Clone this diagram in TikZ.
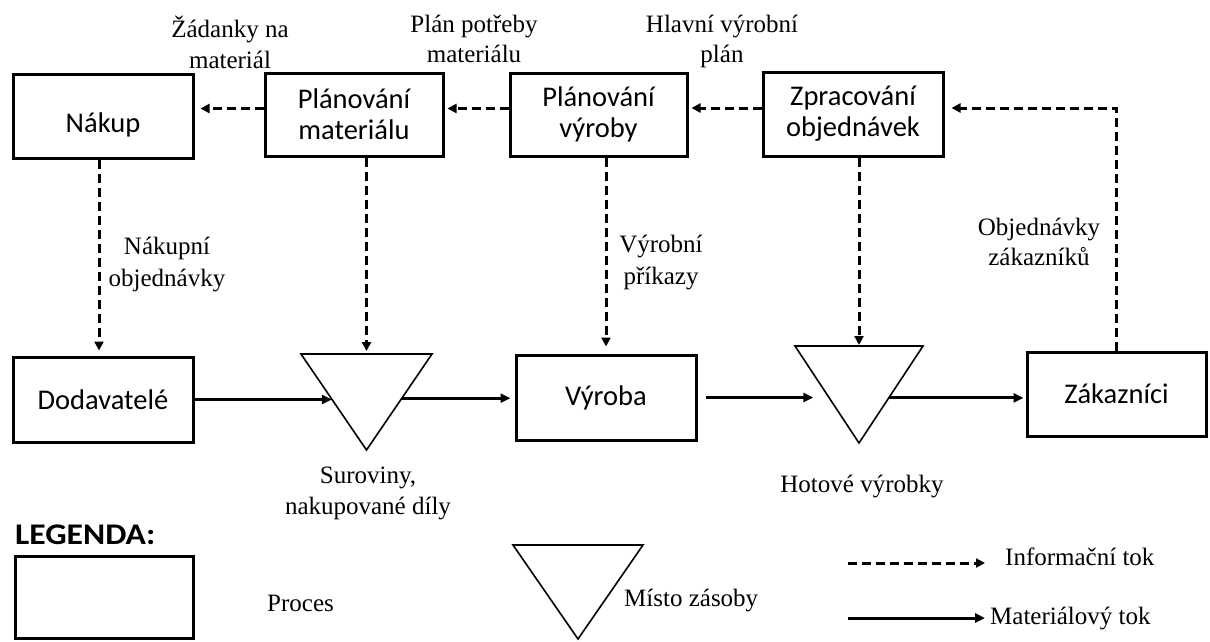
\documentclass[tikz,border=0pt]{standalone}
\usepackage{graphicx}
\usepackage{fontspec}
\setmainfont{Liberation Serif}
\newfontfamily\calibrilike{Carlito}
\usetikzlibrary{arrows.meta,calc}

\begin{document}
\begin{tikzpicture}[x=1pt,y=-1pt,
  proc/.style={draw, line width=3pt, inner sep=0pt,
    font=\calibrilike\fontsize{28.5}{31}\selectfont, align=center},
  proctext/.style={font=\calibrilike\fontsize{28.5}{31}\selectfont, inner sep=0pt},
  stockarea/.style={inner sep=0pt, outer sep=0pt},
  stocktri/.style={line width=1.6pt, line join=miter},
  note/.style={font=\fontsize{25}{31}\selectfont, inner sep=0pt, anchor=base},
  legendhead/.style={font=\calibrilike\bfseries\fontsize{30}{34}\selectfont, inner sep=0pt, anchor=base west},
  info/.style={line width=3pt, dash pattern=on 9pt off 5pt,
    -{Triangle[length=9pt,width=9pt]}},
  mat/.style={line width=3pt, -{Triangle[length=10pt,width=9pt]}},
]
\useasboundingbox (0,0) rectangle (1210,641);

% --- planning row ---
\node[proc, minimum width=180pt, minimum height=84pt,
      label={[proctext, yshift=-9pt]center:Nákup}] (nak) at (103,116) {};
\node[proc, minimum width=178pt, minimum height=83pt] (pm) at (354,114.5) {Plánování\\materiálu};
\node[proc, minimum width=177pt, minimum height=83pt] (pv) at (598.5,114.5) {Plánování\\výroby};
\node[proc, minimum width=180pt, minimum height=84pt] (zpr) at (853,114) {Zpracování\\objednávek};

% --- material row ---
\node[proc, minimum width=180pt, minimum height=85pt] (dod) at (103,399.5) {Dodavatelé};
\node[stockarea, minimum width=131pt, minimum height=96pt] (t1) at (366.5,402) {};
\draw[stocktri] (t1.north west) -- (t1.north east) -- (t1.south) -- cycle;
\node[proc, minimum width=180pt, minimum height=85pt] (vyr) at (606,397.5) {Výroba};
\node[stockarea, minimum width=128pt, minimum height=97pt] (t2) at (859,394.5) {};
\draw[stocktri] (t2.north west) -- (t2.north east) -- (t2.south) -- cycle;
\node[proc, minimum width=179pt, minimum height=84pt] (zak) at (1116.5,394) {Zákazníci};

% points where the material flow meets the stock triangles
\coordinate (t1in)  at ($(t1.north west)!0.47!(t1.south)$);
\coordinate (t1out) at ($(t1.north east)!0.46!(t1.south)$);
\coordinate (t2in)  at ($(t2.north west)!0.535!(t2.south)$);
\coordinate (t2out) at ($(t2.north east)!0.535!(t2.south)$);

% --- information flow ---
\draw[info, shorten >=6pt] ([yshift=6pt]pm.west) -- ([yshift=6pt]pm.west -| nak.east);
\draw[info, shorten >=3pt] ([yshift=6pt]pv.west) -- ([yshift=6pt]pv.west -| pm.east);
\draw[info, shorten >=3pt] ([yshift=6pt]zpr.west) -- ([yshift=6pt]zpr.west -| pv.east);
\draw[info, shorten >=7pt] (zak.north) |- ([yshift=6pt]zpr.east);

\draw[info, shorten >=5pt] ([xshift=-4pt]nak.south) -- ([xshift=-4pt]dod.north);
\draw[info, shorten >=3pt] (pm.south -| t1.north) -- (t1.north);
\draw[info, shorten >=7pt] (pv.south -| vyr.north) -- (vyr.north);
\draw[info, shorten >=1pt] (zpr.south -| t2.north) -- (t2.north);

% --- material flow ---
\draw[mat] (dod.east) -- (dod.east -| t1in);
\draw[mat, shorten >=4pt] (t1out) -- (t1out -| vyr.west);
\draw[mat, shorten <=8pt, shorten >=16pt] (vyr.east) -- (vyr.east -| t2in);
\draw[mat, shorten >=2pt] (t2out) -- (t2out -| zak.west);

% --- flow labels ---
\node[note] (l1a) at (230,37) {Žádanky na};
\node[note] (l1b) at (230,68) {materiál};
\node[note] (l2a) at (474,32) {Plán potřeby};
\node[note] (l2b) at (474,62) {materiálu};
\node[note] (l3a) at (722,32) {Hlavní výrobní};
\node[note] (l3b) at (722,62) {plán};
\node[note] (l4a) at (167,254) {Nákupní};
\node[note] (l4b) at (167,286) {objednávky};
\node[note] (l5a) at (661,252) {Výrobní};
\node[note] (l5b) at (661,284) {příkazy};
\node[note] (l6a) at (1039,235) {Objednávky};
\node[note] (l6b) at (1039,265) {zákazníků};
\node[note] (l7a) at (368,483) {Suroviny,};
\node[note] (l7b) at (368,514) {nakupované díly};
\node[note] (l8)  at (862,492) {Hotové výrobky};

% --- legend ---
\node[legendhead] (lg) at (15,544) {\scalebox{1.12}[1]{LEGENDA:}};
\node[proc, minimum width=178pt, minimum height=82pt] (lgbox) at (104,597) {};
\node[note, anchor=base west] (lgproc) at (267,611) {Proces};
\node[stockarea, minimum width=130pt, minimum height=94pt] (lgtri) at (578,592) {};
\draw[stocktri] (lgtri.north west) -- (lgtri.north east) -- (lgtri.south) -- cycle;
\node[note, anchor=base west] (lgstock) at (624,606) {Místo zásoby};
\coordinate (infoA) at (848,563);
\coordinate (infoB) at (985,563);
\draw[info] (infoA) -- (infoB);
\node[note, anchor=base west] (lginfo) at (1005,565) {Informační tok};
\coordinate (matA) at (848,618);
\coordinate (matB) at (985,618);
\draw[mat] (matA) -- (matB);
\node[note, anchor=base west] (lgmat) at (990,624) {Materiálový tok};
\end{tikzpicture}
\end{document}
